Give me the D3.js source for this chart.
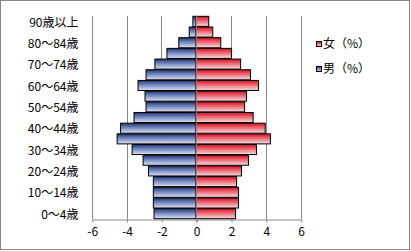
<!DOCTYPE html>
<html>
<head>
<meta charset="utf-8">
<script src="https://d3js.org/d3.v7.min.js"></script>
<style>
  * { margin: 0; padding: 0; }
  body { background: #fff; }
  text { font-family: "Noto Sans CJK JP", "Noto Sans", sans-serif; }
</style>
</head>
<body>
<svg id="chart" width="411" height="251"></svg>
<script>
// age groups, bottom to top
var ageGroups = ["0～4歳", "5～9歳", "10～14歳", "15～19歳", "20～24歳", "25～29歳", "30～34歳",
  "35～39歳", "40～44歳", "45～49歳", "50～54歳", "55～59歳", "60～64歳", "65～69歳",
  "70～74歳", "75～79歳", "80～84歳", "85～89歳", "90歳以上"];
// men drawn to the left (negative)
var maleValues = [-2.42, -2.46, -2.46, -2.46, -2.74, -3.05, -3.68, -4.54, -4.34, -3.57,
  -2.88, -2.94, -3.34, -2.88, -2.37, -1.68, -1.0, -0.4, -0.19];
var femaleValues = [2.26, 2.43, 2.43, 2.32, 2.6, 3.0, 3.46, 4.26, 3.96, 3.27,
  2.78, 2.89, 3.58, 3.12, 2.55, 2.03, 1.41, 0.95, 0.72];
var xTicks = [-6, -4, -2, 0, 2, 4, 6];
var legendLabels = ["女（%）", "男（%）"];

var svg = d3.select("#chart");

// outer frame
svg.append("rect")
  .attr("x", 0.5).attr("y", 0.5)
  .attr("width", 409).attr("height", 249)
  .attr("fill", "#fff").attr("stroke", "#868686");

// gradients
var defs = svg.append("defs");
function addGradient(id, top, mid, bottom) {
  var g = defs.append("linearGradient").attr("id", id)
    .attr("x1", 0).attr("y1", 0).attr("x2", 0).attr("y2", 1);
  g.append("stop").attr("offset", "0%").attr("stop-color", top);
  g.append("stop").attr("offset", "45%").attr("stop-color", mid);
  g.append("stop").attr("offset", "100%").attr("stop-color", bottom);
}
addGradient("gradMale", "#1c3672", "#7488be", "#dde3f3");
addGradient("gradFemale", "#d8101c", "#ec6a76", "#f9dde0");

var plotLeft = 91.7, plotRight = 300.7, plotTop = 16, plotBottom = 219;

var x = d3.scaleLinear().domain([-6, 6]).range([plotLeft, plotRight]);
var y = d3.scaleBand().domain(d3.range(ageGroups.length).reverse())
  .range([plotTop, plotBottom]).paddingInner(0.06).paddingOuter(0.03);

// vertical gridlines
svg.append("g").selectAll("line")
  .data(xTicks)
  .enter().append("line")
  .attr("x1", function (d) { return Math.round(x(d)) + 0.5; })
  .attr("x2", function (d) { return Math.round(x(d)) + 0.5; })
  .attr("y1", plotTop).attr("y2", plotBottom)
  .attr("stroke", "#868686").attr("stroke-width", 1);

// x axis
var xAxis = d3.axisBottom(x).tickValues(xTicks).tickSize(3).tickSizeOuter(0)
  .tickFormat(function (d) { return String(d); });
var gx = svg.append("g")
  .attr("transform", "translate(0.5," + (plotBottom + 0.5) + ")")
  .call(xAxis);
gx.select(".domain").attr("stroke", "#868686");
gx.selectAll(".tick line").attr("stroke", "#868686");
gx.selectAll(".tick text")
  .attr("font-size", 12).attr("fill", "#000").attr("dy", "0.9em")
  .style("font-family", "'Noto Sans CJK JP', sans-serif");

// bars
function drawBars(values, fill) {
  svg.append("g").selectAll("rect")
    .data(values)
    .enter().append("rect")
    .attr("x", function (d) { return x(Math.min(0, d)); })
    .attr("y", function (d, i) { return y(i); })
    .attr("width", function (d) { return Math.abs(x(d) - x(0)); })
    .attr("height", y.bandwidth())
    .attr("fill", fill)
    .attr("stroke", "#000").attr("stroke-width", 1);
}
drawBars(maleValues, "url(#gradMale)");
drawBars(femaleValues, "url(#gradFemale)");

// zero line on top
svg.append("line")
  .attr("x1", Math.round(x(0)) + 0.5).attr("x2", Math.round(x(0)) + 0.5)
  .attr("y1", plotTop).attr("y2", plotBottom + 3)
  .attr("stroke", "#868686");

// category labels (every other one)
svg.append("g").selectAll("text")
  .data(ageGroups)
  .enter().filter(function (d, i) { return i % 2 === 0; })
  .append("text")
  .attr("x", 78.5)
  .attr("y", function (d) { return y(ageGroups.indexOf(d)) + y.bandwidth() / 2 + 1; })
  .attr("dy", "0.35em")
  .attr("text-anchor", "end")
  .attr("font-size", 12)
  .attr("fill", "#000")
  .text(function (d) { return d; });

// legend
var legendFills = ["url(#gradFemale)", "url(#gradMale)"];
var legend = svg.append("g").selectAll("g")
  .data(legendLabels)
  .enter().append("g")
  .attr("transform", function (d, i) { return "translate(316," + (41 + i * 25) + ")"; });
legend.append("rect")
  .attr("x", 0.5).attr("y", 0.5).attr("width", 5).attr("height", 5)
  .attr("fill", function (d, i) { return legendFills[i]; })
  .attr("stroke", "#000");
legend.append("text")
  .attr("x", 7).attr("y", 3).attr("dy", "0.35em")
  .attr("font-size", 12).attr("fill", "#000")
  .text(function (d) { return d; });
</script>
</body>
</html>
